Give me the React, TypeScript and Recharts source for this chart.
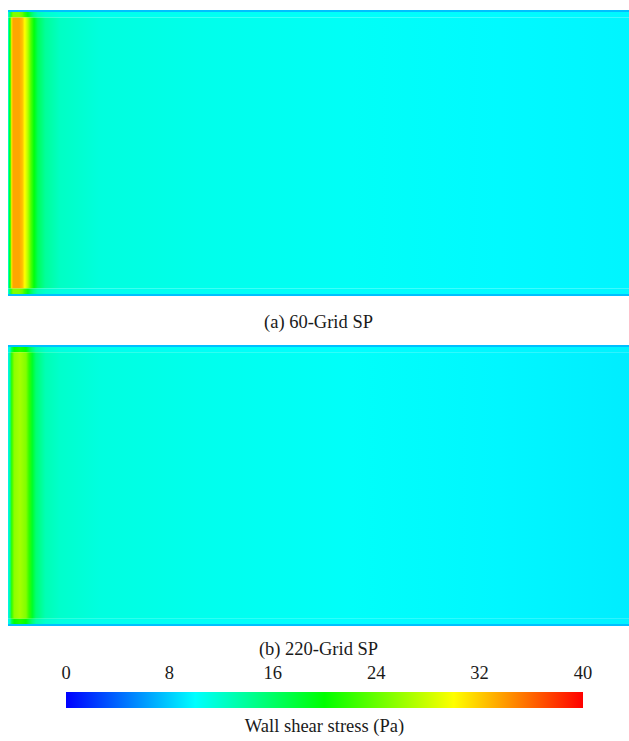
import React from "react";
import { ComposedChart, Line, XAxis, YAxis, ReferenceArea, Label } from "recharts";

// colour scale of the legend (Pa)
const CMAP_VALUES = [0, 10, 20, 30, 40];
const CMAP_COLORS = ["#0000ff", "#00ffff", "#00ff00", "#ffff00", "#ff0000"];
const CBAR_TICKS = [0, 8, 16, 24, 32, 40];

// wall shear stress along the channel length (% of length -> Pa)
const POS_A = [0, 0.3, 0.6, 0.8, 1.8, 2.3, 2.7, 3.2, 3.7, 4.2, 4.8, 6, 8.4, 15, 31, 55, 79, 100];
const WSS_A = [10, 20, 31, 33.5, 33.5, 32.5, 30, 27, 23, 19.5, 16.5, 14, 12.3, 11.3, 10.8, 10.3, 9.8, 9.6];
const WSS_A_BAND = [10, 16, 23, 25, 25, 24, 22, 19, 16.5, 14.5, 13, 12, 11.3, 10.8, 10.5, 10.2, 9.9, 9.7];

const POS_B = [0, 0.3, 0.6, 1.0, 1.9, 2.9, 3.4, 3.9, 4.5, 6, 8.4, 15, 31, 55, 79, 100];
const WSS_B = [9.5, 14, 22, 25.5, 26.5, 25, 22, 18.5, 15.5, 13, 12, 11.2, 10.7, 10.2, 9.7, 9.3];
const WSS_B_BAND = [9.5, 12, 17, 20, 21, 20, 17.5, 15.5, 13.5, 12, 11.3, 10.8, 10.4, 10, 9.7, 9.5];

const EDGE_WSS = 7.5;

const FONT = "Liberation Serif, Times New Roman, serif";
const TEXT_STYLE = { fontFamily: FONT, fontSize: 18.5 };

function hexToRgb(h: string) {
  return [1, 3, 5].map((i) => parseInt(h.slice(i, i + 2), 16));
}

function colorOf(v: number): string {
  let i = 0;
  while (i < CMAP_VALUES.length - 2 && v > CMAP_VALUES[i + 1]) i++;
  const t = Math.max(0, Math.min(1, (v - CMAP_VALUES[i]) / (CMAP_VALUES[i + 1] - CMAP_VALUES[i])));
  const a = hexToRgb(CMAP_COLORS[i]);
  const b = hexToRgb(CMAP_COLORS[i + 1]);
  const c = a.map((x, k) => Math.round(x + (b[k] - x) * t));
  return `rgb(${c[0]},${c[1]},${c[2]})`;
}

function Gradient({ id, pos, vals, max }: { id: string; pos: number[]; vals: number[]; max: number }) {
  return (
    <linearGradient id={id} x1="0" y1="0" x2="1" y2="0">
      {pos.map((p, i) => (
        <stop key={i} offset={p / max} stopColor={colorOf(vals[i])} />
      ))}
    </linearGradient>
  );
}

// row layout of a panel, in % of its height
const ROWS = [
  { y1: 99.3, y2: 100, kind: "edge" },
  { y1: 97.4, y2: 99.3, kind: "band" },
  { y1: 2.6, y2: 97.4, kind: "body" },
  { y1: 0.7, y2: 2.6, kind: "band" },
  { y1: 0, y2: 0.7, kind: "edge" },
];

function Panel({
  id,
  pos,
  body,
  band,
  caption,
  top,
  plotH,
  captionOffset,
}: {
  id: string;
  pos: number[];
  body: number[];
  band: number[];
  caption: string;
  top: number;
  plotH: number;
  captionOffset: number;
}) {
  const lineData = pos.map((p, i) => ({ x: p, v: body[i] }));
  return (
    <div style={{ position: "absolute", left: 0, top }}>
      <ComposedChart width={629} height={plotH + 50} data={lineData} margin={{ top: 10, right: 0, bottom: 0, left: 8 }}>
        <defs>
          <Gradient id={`${id}-body`} pos={pos} vals={body} max={100} />
          <Gradient id={`${id}-band`} pos={pos} vals={band} max={100} />
        </defs>
        <XAxis type="number" dataKey="x" domain={[0, 100]} height={40} tick={false} axisLine={false} tickLine={false}>
          <Label value={caption} position="insideTop" offset={captionOffset} fill="#1a1a1a" style={TEXT_STYLE} />
        </XAxis>
        <YAxis type="number" domain={[0, 100]} hide />
        {ROWS.map((r, i) => (
          <ReferenceArea
            key={i}
            x1={0}
            x2={100}
            y1={r.y1}
            y2={r.y2}
            fill={r.kind === "edge" ? colorOf(EDGE_WSS) : `url(#${id}-${r.kind})`}
            fillOpacity={1}
            stroke="none"
            ifOverflow="visible"
          />
        ))}
        <Line dataKey="v" stroke="none" dot={false} activeDot={false} isAnimationActive={false} />
      </ComposedChart>
    </div>
  );
}

function ColorBar() {
  const lineData = CMAP_VALUES.map((v) => ({ x: v, v: 0.5 }));
  return (
    <div style={{ position: "absolute", left: 0, top: 648 }}>
      <ComposedChart width={629} height={93} data={lineData} margin={{ top: 0, right: 46, bottom: 0, left: 66 }}>
        <defs>
          <Gradient id="cbar" pos={CMAP_VALUES} vals={CMAP_VALUES} max={40} />
        </defs>
        <XAxis
          xAxisId="top"
          orientation="top"
          type="number"
          dataKey="x"
          domain={[0, 40]}
          ticks={CBAR_TICKS}
          height={44}
          axisLine={false}
          tickLine={false}
          tickSize={0}
          tickMargin={13}
          tick={{ fill: "#1a1a1a", style: TEXT_STYLE }}
        />
        <XAxis
          xAxisId="bot"
          orientation="bottom"
          type="number"
          dataKey="x"
          domain={[0, 40]}
          height={33}
          tick={false}
          axisLine={false}
          tickLine={false}
        >
          <Label value="Wall shear stress (Pa)" position="insideTop" offset={11} fill="#1a1a1a" style={TEXT_STYLE} />
        </XAxis>
        <YAxis type="number" domain={[0, 1]} hide />
        <ReferenceArea xAxisId="top" x1={0} x2={40} y1={0} y2={1} fill="url(#cbar)" fillOpacity={1} stroke="none" ifOverflow="visible" />
        <Line xAxisId="top" dataKey="v" stroke="none" dot={false} activeDot={false} isAnimationActive={false} />
      </ComposedChart>
    </div>
  );
}

export default function App() {
  return (
    <div style={{ position: "absolute", left: 0, top: 0, width: 629, height: 741, background: "#fff", fontFamily: FONT }}>
      <Panel id="pa" pos={POS_A} body={WSS_A} band={WSS_A_BAND} caption="(a) 60-Grid SP" top={0} plotH={286} captionOffset={19} />
      <Panel id="pb" pos={POS_B} body={WSS_B} band={WSS_B_BAND} caption="(b) 220-Grid SP" top={335} plotH={281} captionOffset={16} />
      <ColorBar />
    </div>
  );
}
